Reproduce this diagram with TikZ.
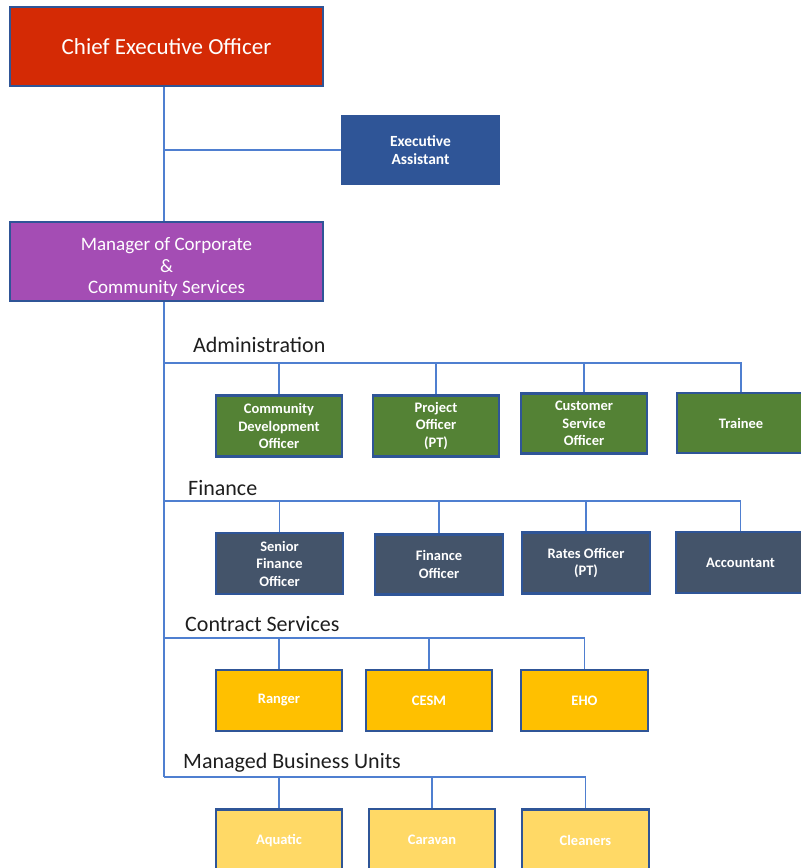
\documentclass[tikz,border=0pt]{standalone}
\usepackage{fontspec}
\setmainfont{Carlito}
\definecolor{ceored}{HTML}{D42A05}
\definecolor{eablue}{HTML}{2F5597}
\definecolor{mgrpurple}{HTML}{A44DB4}
\definecolor{admgreen}{HTML}{548235}
\definecolor{finslate}{HTML}{44546A}
\definecolor{conorange}{HTML}{FFC000}
\definecolor{mbuyellow}{HTML}{FFD966}
\definecolor{bordblue}{HTML}{2F5597}
\definecolor{linkblue}{HTML}{4F7FD0}
\definecolor{labelgray}{HTML}{1E1E1E}
\tikzset{
  x=1pt, y=-1pt,
  box/.style={draw=bordblue, line width=2.2pt, text=white, align=center, inner sep=0pt, font=\fontsize{14.5}{17.5}\selectfont\bfseries},
  bigbox/.style={box, minimum width=313pt, minimum height=79pt},
  unit/.style={box, minimum width=126pt, minimum height=61pt},
  inner text/.style={text=white, align=center, inner sep=0pt},
  link/.style={draw=linkblue, line width=1.3pt},
  grp/.style={anchor=west, text=labelgray, inner sep=0pt, font=\fontsize{22}{24}\selectfont}
}
\begin{document}
\begin{tikzpicture}
\useasboundingbox (0,0) rectangle (801,868);
\coordinate (t) at (164,0);
% top
\node[bigbox, fill=ceored, font=\fontsize{23}{26}\selectfont] (ceo) at (166.5,46.5) {Chief Executive Officer};
\node[box, fill=eablue, draw=eablue, minimum width=157pt, minimum height=68pt, font=\fontsize{15.5}{17.5}\selectfont\bfseries] (ea) at (420.5,150) {Executive\\Assistant};
\node[bigbox, fill=mgrpurple, label={[inner text, yshift=-6pt, font=\fontsize{19}{21.5}\selectfont]center:{Manager of Corporate\\\&\\Community Services}}] (mgr) at (166.5,261.5) {};
% group labels
\node[grp] (ladm) at (193,345) {Administration};
\node[grp] (lfin) at (188,488) {Finance};
\node[grp] (lcon) at (185,624) {Contract Services};
\node[grp] (lmbu) at (183,763) {Managed Business Units};
% bus coordinates on trunk
\coordinate (badm) at (164,363);
\coordinate (bfin) at (164,501);
\coordinate (bcon) at (164,638);
\coordinate (bmbu) at (164,777);
% administration
\node[unit, fill=admgreen] (cdo) at (279,426) {Community\\Development\\Officer};
\node[unit, fill=admgreen] (po) at (436,426) {Project\\Officer\\(PT)};
\node[unit, fill=admgreen, minimum height=60pt] (cso) at (584,423.5) {Customer\\Service\\Officer};
\node[unit, fill=admgreen, minimum width=128pt, minimum height=60pt] (trn) at (741,423) {Trainee};
% finance
\node[unit, fill=finslate, minimum width=127pt] (sfo) at (279.5,563.5) {Senior\\Finance\\Officer};
\node[unit, fill=finslate, minimum width=128pt, minimum height=60pt] (fo) at (439,564.5) {Finance\\Officer};
\node[unit, fill=finslate, minimum width=128pt] (ro) at (586,563) {Rates Officer\\(PT)};
\node[unit, fill=finslate, minimum width=129pt] (acc) at (740.5,562.5) {Accountant};
% contract services
\node[unit, fill=conorange] (rng) at (279,700.5) {Ranger};
\node[unit, fill=conorange] (cesm) at (429,700.5) {CESM};
\node[unit, fill=conorange, minimum width=127pt] (eho) at (584.5,700.5) {EHO};
% managed business units
\node[unit, fill=mbuyellow, minimum height=62pt] (aqu) at (279,840.5) {Aquatic};
\node[unit, fill=mbuyellow, minimum height=62pt] (car) at (432,840) {Caravan};
\node[unit, fill=mbuyellow, minimum width=127pt, minimum height=62pt] (cln) at (585.5,840.5) {Cleaners};
% connectors
\draw[link] (ceo.south -| t) -- (mgr.north -| t);
\draw[link] (ea.west -| t) -- (ea.west);
\draw[link] (mgr.south -| t) -- (bmbu);
\foreach \b/\n in {badm/cdo, badm/po, badm/cso, badm/trn,
                   bfin/sfo, bfin/fo, bfin/ro, bfin/acc,
                   bcon/rng, bcon/cesm, bcon/eho,
                   bmbu/aqu, bmbu/car, bmbu/cln}
  \draw[link] (\b) -| (\n.north);
\end{tikzpicture}
\end{document}
